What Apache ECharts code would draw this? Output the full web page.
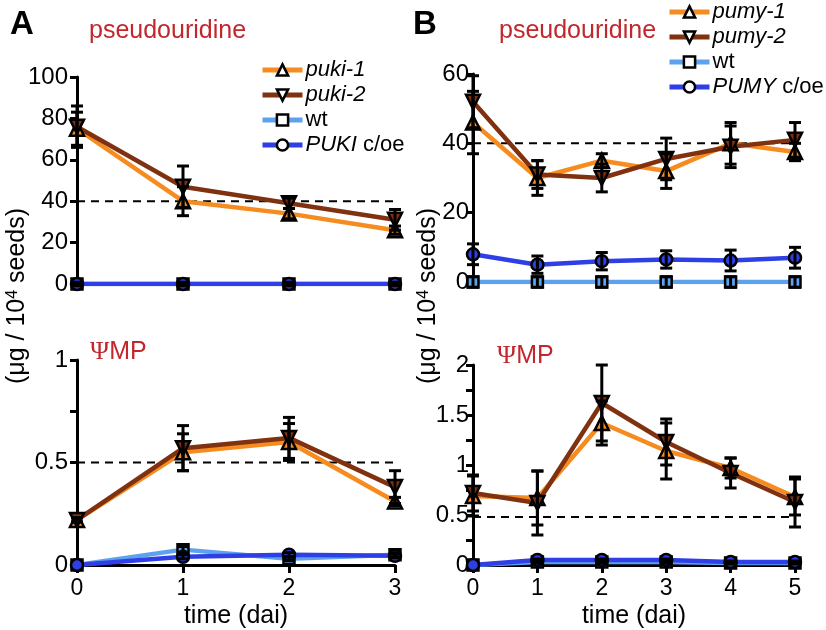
<!DOCTYPE html>
<html>
<head>
<meta charset="utf-8">
<script src="https://cdn.jsdelivr.net/npm/echarts@6/dist/echarts.min.js"></script>
<style>html,body{margin:0;padding:0;background:#fff}#c{width:826px;height:630px}</style>
</head>
<body>
<div id="c"></div>
<script>
// ---------- data ----------
const timeA = [0, 1, 2, 3];
const timeB = [0, 1, 2, 3, 4, 5];

// Panel A - pseudouridine
const puki1Psi = [75, 40, 34, 26];
const puki1PsiErr = [8, 7, 2.5, 2];
const puki2Psi = [76, 47, 39, 31];
const puki2PsiErr = [10, 10, 2.5, 5];
const wtAPsi = [0, 0, 0, 0];
const wtAPsiErr = [0.8, 0.8, 0.8, 0.8];
const pukiOePsi = [0, 0, 0, 0];
const pukiOePsiErr = [0.8, 0.8, 0.8, 0.8];

// Panel A - ΨMP
const puki1Mp = [0.22, 0.55, 0.60, 0.31];
const puki1MpErr = [0.01, 0.09, 0.09, 0.02];
const puki2Mp = [0.22, 0.57, 0.62, 0.38];
const puki2MpErr = [0.01, 0.11, 0.10, 0.08];
const wtAMp = [0, 0.075, 0.03, 0.05];
const wtAMpErr = [0, 0.015, 0.01, 0.01];
const pukiOeMp = [0, 0.04, 0.05, 0.045];
const pukiOeMpErr = [0, 0.01, 0.01, 0.01];

// Panel B - pseudouridine
const pumy1Psi = [46, 30, 35, 32, 40, 37.5];
const pumy1PsiErr = [9, 5, 2, 5, 6, 2.5];
const pumy2Psi = [52, 31, 30, 35.5, 39, 41];
const pumy2PsiErr = [7.5, 4, 4, 6, 6, 5];
const wtBPsi = [0, 0, 0, 0, 0, 0];
const wtBPsiErr = [1.5, 1.5, 1.5, 1.5, 1.5, 1.5];
const pumyOePsi = [8, 5, 6, 6.5, 6.2, 7];
const pumyOePsiErr = [3, 2.5, 2.5, 2.5, 3, 3];

// Panel B - ΨMP
const pumy1Mp = [0.69, 0.67, 1.42, 1.14, 0.97, 0.68];
const pumy1MpErr = [0.2, 0.27, 0.22, 0.28, 0.1, 0.18];
const pumy2Mp = [0.72, 0.62, 1.62, 1.23, 0.92, 0.63];
const pumy2MpErr = [0.18, 0.32, 0.38, 0.23, 0.15, 0.25];
const wtBMp = [0, 0.03, 0.03, 0.03, 0.02, 0.02];
const wtBMpErr = [0, 0.01, 0.01, 0.01, 0.01, 0.01];
const pumyOeMp = [0, 0.05, 0.05, 0.05, 0.03, 0.03];
const pumyOeMpErr = [0, 0.01, 0.01, 0.01, 0.01, 0.01];

// reference (dashed) levels
const refLevels = [40, 0.5, 40, 0.48];
const refEnds = [3.08, 3.08, 5.3, 5.08];

// tick settings
const yMax = [100, 1, 60, 2];
const yInterval = [20, 0.25, 20, 0.25];
const yLabelStep = [20, 0.5, 20, 0.5];

const namesA = ['puki-1', 'puki-2', 'wt', 'PUKI c/oe'];
const namesB = ['pumy-1', 'pumy-2', 'wt', 'PUMY c/oe'];

// ---------- style ----------
const FONT = 'Liberation Sans, Arial, Helvetica, sans-serif';
const ORANGE = '#F68B1F', BROWN = '#7F3110', LBLUE = '#5DA2EE', BLUE = '#2E3FE6';
const RED = '#C1272D';

function lineS(name, t, vals, color, symbol, rot, gi, size) {
  return {
    type: 'line', name, xAxisIndex: gi, yAxisIndex: gi,
    data: t.map((x, i) => [x, vals[i]]),
    symbol, symbolSize: size, symbolRotate: rot,
    showAllSymbol: true,
    lineStyle: { color, width: 4.5 },
    itemStyle: { color, borderColor: '#000', borderWidth: 2.5 },
    z: 2, animation: false, silent: true
  };
}
function errS(t, vals, errs, gi) {
  return {
    type: 'custom', xAxisIndex: gi, yAxisIndex: gi, z: 3, silent: true, animation: false,
    data: t.map((x, i) => [x, vals[i], errs[i]]),
    renderItem(params, api) {
      const x = api.value(0), y = api.value(1), e = api.value(2);
      if (!e) return null;
      const a = api.coord([x, y + e]), b = api.coord([x, y - e]);
      const w = 6, st = { stroke: '#000', lineWidth: 3 };
      return { type: 'group', children: [
        { type: 'line', shape: { x1: a[0], y1: a[1], x2: b[0], y2: b[1] }, style: st },
        { type: 'line', shape: { x1: a[0] - w, y1: a[1], x2: a[0] + w, y2: a[1] }, style: st },
        { type: 'line', shape: { x1: b[0] - w, y1: b[1], x2: b[0] + w, y2: b[1] }, style: st }
      ]};
    }
  };
}
function refS(gi) {
  return {
    type: 'line', xAxisIndex: gi, yAxisIndex: gi, clip: false, symbol: 'none', z: 1,
    data: [[0, refLevels[gi]], [refEnds[gi], refLevels[gi]]],
    lineStyle: { color: '#000', width: 2, type: [8, 6] }, silent: true, animation: false
  };
}
function panelSeries(gi, t, names, sets) {
  const out = [refS(gi)];
  const cfg = [[ORANGE, 'triangle', 0, 14], [BROWN, 'triangle', 180, 14], [LBLUE, 'rect', 0, 11], [BLUE, 'circle', 0, 12]];
  [2, 3, 0, 1].forEach(k => {
    out.push(lineS(names[k], t, sets[k][0], cfg[k][0], cfg[k][1], cfg[k][2], gi, cfg[k][3]));
  });
  [2, 3, 0, 1].forEach(k => out.push(errS(t, sets[k][0], sets[k][1], gi)));
  return out;
}

const grids = [
  { left: 77, top: 77, width: 318, height: 207 },
  { left: 77, top: 360, width: 318, height: 207 },
  { left: 473, top: 74, width: 322, height: 208 },
  { left: 473, top: 365, width: 322, height: 201 }
];
const xMax = [3, 3, 5, 5];
const showX = [false, true, false, true];

const xAxes = grids.map((g, i) => ({
  type: 'value', gridIndex: i, min: 0, max: xMax[i], interval: 1,
  show: showX[i],
  axisLine: { show: true, lineStyle: { color: '#000', width: 3 } },
  axisTick: { show: true, length: 8, lineStyle: { color: '#000', width: 3 } },
  axisLabel: { color: '#000', fontSize: 23, fontFamily: FONT, margin: 12 },
  splitLine: { show: false },
  name: showX[i] ? 'time (dai)' : '', nameLocation: 'middle', nameGap: 39,
  nameTextStyle: { color: '#000', fontSize: 25, fontFamily: FONT }
}));
const yAxes = grids.map((g, i) => ({
  type: 'value', gridIndex: i, min: 0, max: yMax[i], interval: yInterval[i],
  axisLine: { show: true, lineStyle: { color: '#000', width: 3 } },
  axisTick: { show: true, length: 7, lineStyle: { color: '#000', width: 3 } },
  axisLabel: {
    color: '#000', fontSize: 24, fontFamily: FONT, margin: i < 2 ? 9 : 4,
    formatter: v => (Math.abs(v / yLabelStep[i] - Math.round(v / yLabelStep[i])) < 1e-6 ? String(+v.toFixed(2)) : '')
  },
  splitLine: { show: false }
}));

const series = [].concat(
  panelSeries(0, timeA, namesA, [[puki1Psi, puki1PsiErr], [puki2Psi, puki2PsiErr], [wtAPsi, wtAPsiErr], [pukiOePsi, pukiOePsiErr]]),
  panelSeries(1, timeA, namesA, [[puki1Mp, puki1MpErr], [puki2Mp, puki2MpErr], [wtAMp, wtAMpErr], [pukiOeMp, pukiOeMpErr]]),
  panelSeries(2, timeB, namesB, [[pumy1Psi, pumy1PsiErr], [pumy2Psi, pumy2PsiErr], [wtBPsi, wtBPsiErr], [pumyOePsi, pumyOePsiErr]]),
  panelSeries(3, timeB, namesB, [[pumy1Mp, pumy1MpErr], [pumy2Mp, pumy2MpErr], [wtBMp, wtBMpErr], [pumyOeMp, pumyOeMpErr]])
);

function legendFmt(name) {
  if (name === 'wt') return name;
  if (name.indexOf(' c/oe') > 0) return '{i|' + name.replace(' c/oe', '') + '} c/oe';
  return '{i|' + name + '}';
}
function legend(names, left, top) {
  return {
    data: names, orient: 'vertical', left, top, padding: 0,
    itemWidth: 40, itemHeight: 14, itemGap: 3, selectedMode: false,
    itemStyle: { color: '#fff', borderColor: '#000', borderWidth: 2.5 },
    lineStyle: { width: 5 },
    formatter: legendFmt,
    textStyle: { color: '#000', fontSize: 22, fontFamily: FONT, lineHeight: 22, padding: [0, 0, 0, -2],
      rich: { i: { fontStyle: 'italic', fontSize: 22, fontFamily: FONT, color: '#000' } } }
  };
}

function txt(x, y, text, opts) {
  return { type: 'text', x, y, silent: true, style: Object.assign({ text, fill: '#000', fontFamily: FONT }, opts) };
}
const yName = '(μg / 10{s|4} seeds)';
const yNameStyle = {
  fontSize: 25, align: 'center', verticalAlign: 'middle',
  rich: { s: { fontSize: 16, verticalAlign: 'top', fontFamily: FONT, fill: '#000' } }
};
const psiRich = { s: { fontFamily: 'Liberation Serif, serif', fontSize: 26, fill: RED } };
const graphic = [
  txt(10, 8, 'A', { fontSize: 33, fontWeight: 'bold' }),
  txt(413, 8, 'B', { fontSize: 33, fontWeight: 'bold' }),
  txt(89, 31, 'pseudouridine', { fontSize: 25, fill: RED, verticalAlign: 'middle' }),
  txt(499, 31, 'pseudouridine', { fontSize: 25, fill: RED, verticalAlign: 'middle' }),
  txt(90, 352, '{s|Ψ}MP', { fontSize: 25, fill: RED, verticalAlign: 'middle', rich: psiRich }),
  txt(497, 356, '{s|Ψ}MP', { fontSize: 25, fill: RED, verticalAlign: 'middle', rich: psiRich }),
  Object.assign(txt(17, 296, yName, yNameStyle), { rotation: Math.PI / 2 }),
  Object.assign(txt(428, 296, yName, yNameStyle), { rotation: Math.PI / 2 })
];

const chart = echarts.init(document.getElementById('c'), null, { renderer: 'canvas' });
chart.setOption({
  animation: false,
  backgroundColor: '#fff',
  grid: grids,
  xAxis: xAxes,
  yAxis: yAxes,
  legend: [legend(namesA, 260, 59), legend(namesB, 667, 1)],
  graphic,
  series
});
</script>
</body>
</html>
